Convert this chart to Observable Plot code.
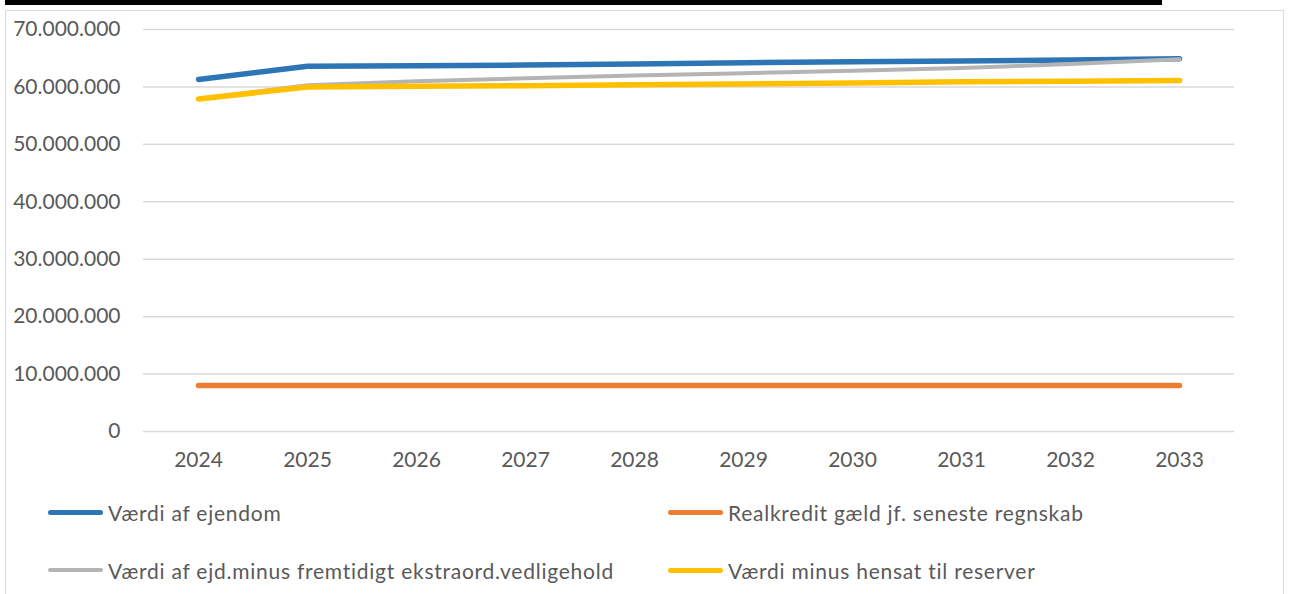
<!DOCTYPE html>
<html>
<head>
<meta charset="utf-8">
<script src="https://cdn.jsdelivr.net/npm/d3@7"></script>
<script src="https://cdn.jsdelivr.net/npm/@observablehq/plot@0.6"></script>
<style>
  html, body { margin: 0; padding: 0; background: #fff; overflow: hidden; }
  body { position: relative; width: 1290px; height: 594px; font-family: Lato, "Open Sans", sans-serif; }
  #titlebar { position: absolute; left: 5px; top: 0; width: 1157px; height: 5px; background: #000; }
  #frame { position: absolute; left: 5px; top: 10px; width: 1279px; height: 620px; border: 1.5px solid #d9d9d9; box-sizing: border-box; }
  #chart { position: absolute; left: 0; top: 0; }
  .item { position: absolute; display: flex; align-items: center; font-size: 21px; letter-spacing: 0.75px; color: #595959; white-space: nowrap; }
  .swatch { width: 55px; height: 5px; border-radius: 3px; margin-right: 5px; }
</style>
</head>
<body>
<div id="titlebar"></div>
<div id="frame"></div>
<div id="chart"></div>
<div id="legend"></div>
<script>
// Years on the horizontal axis
const years = ["2024", "2025", "2026", "2027", "2028", "2029", "2030", "2031", "2032", "2033"];

// Series values (kr.)
const vaerdiEjendom = [61300000, 63600000, 63700000, 63800000, 64000000, 64200000, 64400000, 64500000, 64700000, 64900000];
const realkreditGaeld = [8000000, 8000000, 8000000, 8000000, 8000000, 8000000, 8000000, 8000000, 8000000, 8000000];
const vaerdiMinusVedligehold = [57900000, 60300000, 61000000, 61500000, 62000000, 62400000, 62800000, 63300000, 64000000, 64800000];
const vaerdiMinusReserver = [57900000, 60000000, 60100000, 60200000, 60400000, 60500000, 60700000, 60900000, 61000000, 61100000];

// Series names, in drawing order
const seriesNames = [
  "Værdi af ejendom",
  "Realkredit gæld jf. seneste regnskab",
  "Værdi af ejd.minus fremtidigt ekstraord.vedligehold",
  "Værdi minus hensat til reserver"
];
const seriesValues = [vaerdiEjendom, realkreditGaeld, vaerdiMinusVedligehold, vaerdiMinusReserver];
const seriesColors = ["#2e75b6", "#ed7d31", "#b4b4b4", "#ffc000"];
const seriesWidths = [5.5, 5.5, 4, 5.5];

// Y ticks
const yTicks = [0, 10000000, 20000000, 30000000, 40000000, 50000000, 60000000, 70000000];

const fmt = d3.formatLocale({decimal: ",", thousands: ".", grouping: [3], currency: ["", " kr."]}).format(",d");

const rows = seriesNames.flatMap((name, i) =>
  years.map((year, j) => ({series: name, year, value: seriesValues[i][j]}))
);

const chart = Plot.plot({
  width: 1290,
  height: 480,
  marginTop: 29,
  marginBottom: 49,
  marginLeft: 143,
  marginRight: 56,
  style: {fontFamily: "Lato, 'Open Sans', sans-serif", fontSize: "21px", color: "#595959", background: "transparent"},
  x: {type: "point", domain: years, padding: 0.5},
  y: {domain: [0, 70000000]},
  marks: [
    Plot.ruleY(yTicks, {stroke: "#d9d9d9", strokeWidth: 1.5}),
    Plot.axisY({ticks: yTicks, tickFormat: fmt, tickSize: 0, tickPadding: 23, fontSize: 21, label: null}),
    Plot.axisX({tickSize: 0, tickPadding: 21, fontSize: 21, label: null, style: {letterSpacing: "0.5px"}}),
    ...seriesNames.map((name, i) =>
      Plot.line(rows.filter(d => d.series === name), {
        x: "year",
        y: "value",
        stroke: seriesColors[i],
        strokeWidth: seriesWidths[i],
        strokeLinecap: "round",
        strokeLinejoin: "round"
      })
    )
  ]
});
document.getElementById("chart").appendChild(chart);

// Legend in two columns and two rows
const legendPos = [
  {left: 48, top: 514},
  {left: 668, top: 514},
  {left: 48, top: 572},
  {left: 668, top: 572}
];
const legend = document.getElementById("legend");
seriesNames.forEach((name, i) => {
  const item = document.createElement("div");
  item.className = "item";
  item.style.left = legendPos[i].left + "px";
  item.style.top = (legendPos[i].top - 15) + "px";
  item.style.height = "26px";
  const sw = document.createElement("div");
  sw.className = "swatch";
  sw.style.background = seriesColors[i];
  sw.style.height = (i === 2 ? 4 : 5) + "px";
  const label = document.createElement("span");
  label.textContent = name;
  item.appendChild(sw);
  item.appendChild(label);
  legend.appendChild(item);
});
</script>
</body>
</html>
